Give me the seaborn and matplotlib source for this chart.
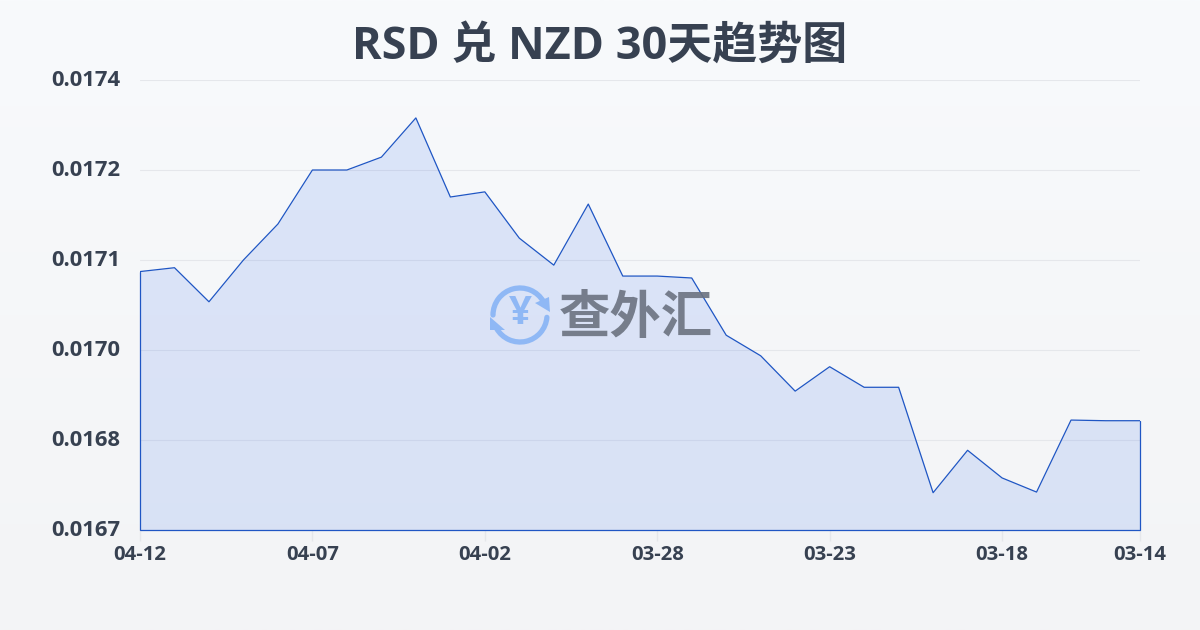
import numpy as np
import matplotlib
matplotlib.use('Agg')
import matplotlib.pyplot as plt
from matplotlib.patches import Arc, Polygon
from matplotlib.transforms import ScaledTranslation
import pandas as pd
import seaborn as sns

dates = ['04-12', '04-11', '04-10', '04-09', '04-08', '04-07', '04-06', '04-05', '04-04', '04-03',
         '04-02', '04-01', '03-31', '03-30', '03-29', '03-28', '03-27', '03-26', '03-25', '03-24',
         '03-23', '03-22', '03-21', '03-20', '03-19', '03-18', '03-17', '03-16', '03-15', '03-14']
rates = [0.017102, 0.017108, 0.017055, 0.017120, 0.017176, 0.017260, 0.017260, 0.017280, 0.017341, 0.017218,
         0.017226, 0.017154, 0.017112, 0.017207, 0.017095, 0.017095, 0.017092, 0.017003, 0.016971, 0.016916,
         0.016954, 0.016922, 0.016922, 0.016758, 0.016824, 0.016781, 0.016759, 0.016871, 0.016870, 0.016870]
y_ticks = [0.0167, 0.01684, 0.01698, 0.01712, 0.01726, 0.0174]
y_labels = ['0.0167', '0.0168', '0.0170', '0.0171', '0.0172', '0.0174']
x_ticks = ['04-12', '04-07', '04-02', '03-28', '03-23', '03-18', '03-14']

sns.set_theme(style='white')
plt.rcParams['font.family'] = ['Open Sans', 'Noto Sans CJK SC']

df = pd.DataFrame({'pos': range(len(dates)), 'date': dates, 'rate': rates})

fig = plt.figure(figsize=(12, 6.3), dpi=100)

# fond en dégradé
bg = fig.add_axes([0, 0, 1, 1], zorder=0)
grad = np.linspace(0, 1, 256).reshape(-1, 1)
cmap = matplotlib.colors.LinearSegmentedColormap.from_list('bg', ['#f8fafc', '#f3f4f6'])
bg.imshow(grad, aspect='auto', cmap=cmap)
bg.axis('off')

ax = fig.add_axes([140 / 1200, 100 / 630, 1000 / 1200, 450 / 630], zorder=1)
ax.patch.set_alpha(0)
ax.fill_between(df['pos'], df['rate'], 0.0167, color='#2563eb', alpha=0.13, lw=0, zorder=2)
sns.lineplot(data=df, x='pos', y='rate', ax=ax, color='#1f56c4', lw=0.9, zorder=3, errorbar=None)
ax.plot([0, 0, 29, 29], [rates[0], 0.0167, 0.0167, rates[-1]], color='#1f56c4', lw=0.9, zorder=3,
        solid_joinstyle='miter', clip_on=False)

ax.set_xlim(0, 29)
ax.set_ylim(0.0167, 0.0174)
ax.set_xlabel('')
ax.set_ylabel('')
ax.set_yticks(y_ticks)
ax.set_yticklabels(y_labels, fontsize=15.8, fontweight='bold', color='#374151')
ax.set_xticks([dates.index(d) for d in x_ticks])
ax.set_xticklabels(x_ticks, fontsize=14.6, fontweight='bold', color='#374151')
ax.tick_params(axis='y', length=0, pad=14)
ax.tick_params(axis='x', length=8, width=1, color='#e5e7eb', pad=2.5, bottom=True)
ax.grid(axis='y', color='#e5e7eb', lw=0.8)
ax.set_axisbelow(True)
sns.despine(ax=ax, left=True, bottom=True)

# les libellés de y sont un peu au-dessus des lignes
shift = ScaledTranslation(0, 1.5 / 72, fig.dpi_scale_trans)
for lab in ax.get_yticklabels():
    lab.set_transform(lab.get_transform() + shift)

fig.text(0.5, 1 - 47 / 630, 'RSD 兑 NZD 30天趋势图', ha='center', va='center', fontsize=32.4,
         fontweight='bold', color='#374151', zorder=5)

# filigrane
ov = fig.add_axes([0, 0, 1, 1], zorder=4)
ov.set_xlim(0, 1200)
ov.set_ylim(630, 0)
ov.axis('off')
icon = '#8fb8f5'
ov.add_patch(Arc((520, 315), 54, 54, theta1=180, theta2=330, color=icon, lw=3.8, capstyle='round'))
ov.add_patch(Arc((520, 315), 54, 54, theta1=5, theta2=150, color=icon, lw=3.8, capstyle='round'))
ov.add_patch(Polygon([(550, 312), (549, 297), (535, 303)], color=icon, lw=0))
ov.add_patch(Polygon([(490, 317), (490, 330), (505, 330)], color=icon, lw=0))
ov.text(520, 314, '¥', ha='center', va='center', fontsize=29, fontweight='bold', color=icon)
ov.text(636, 318, '查外汇', ha='center', va='center', fontsize=37, fontweight='bold',
        family=['Noto Sans CJK SC'], color='#6b7280', alpha=0.9)

fig.savefig('out.png', dpi=100)
